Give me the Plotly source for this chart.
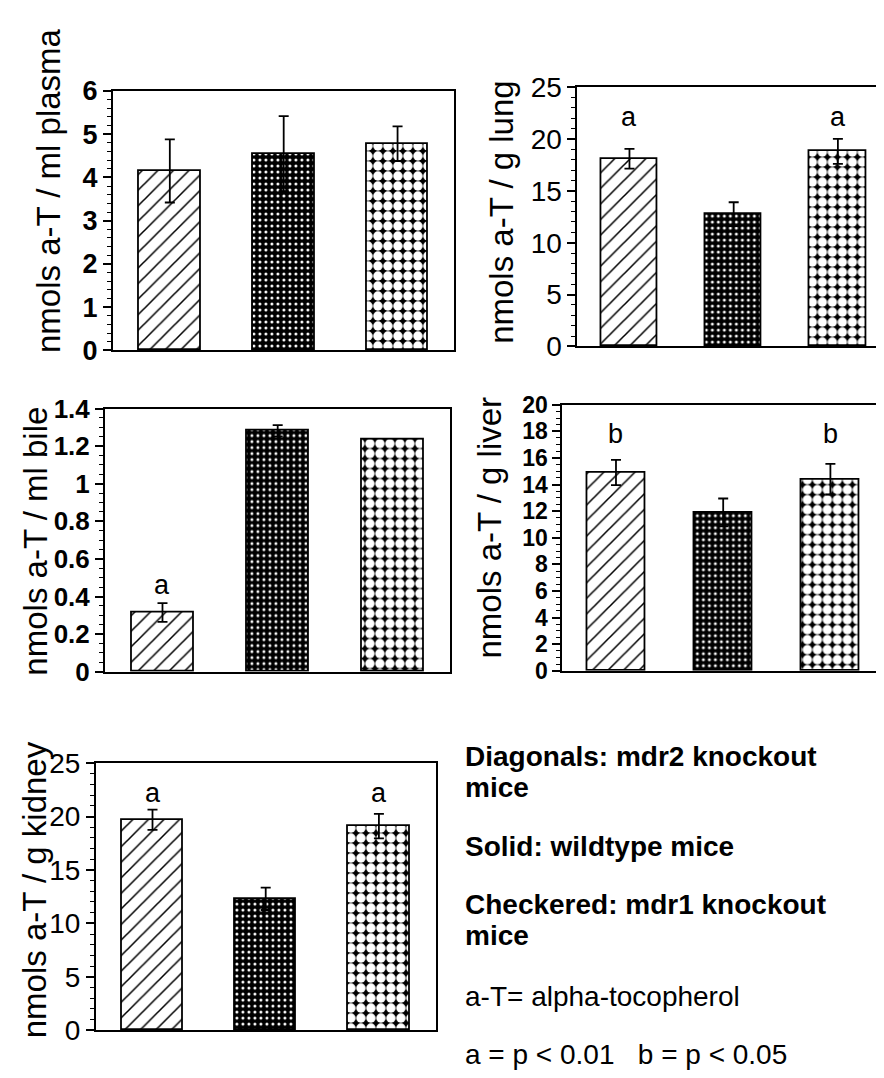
import plotly.graph_objects as go

# ---------------- data ----------------
groups = ["mdr2 knockout", "wildtype", "mdr1 knockout"]

plasma_vals = [4.15, 4.55, 4.78]
plasma_err = [0.73, 0.87, 0.40]
plasma_sig = ["", "", ""]

lung_vals = [18.1, 12.75, 18.8]
lung_err = [0.95, 1.15, 1.2]
lung_sig = ["a", "", "a"]

bile_vals = [0.315, 1.282, 1.236]
bile_err = [0.05, 0.03, 0.0]
bile_sig = ["a", "", ""]

liver_vals = [14.9, 11.9, 14.4]
liver_err = [0.95, 1.05, 1.15]
liver_sig = ["b", "", "b"]

kidney_vals = [19.7, 12.3, 19.1]
kidney_err = [0.95, 1.05, 1.15]
kidney_sig = ["a", "", "a"]

legend_lines = [
    "<b>Diagonals: mdr2 knockout</b>",
    "<b>mice</b>",
    "<b>Solid: wildtype mice</b>",
    "<b>Checkered: mdr1 knockout</b>",
    "<b>mice</b>",
    "a-T= alpha-tocopherol",
    "a = p &lt; 0.01   b = p &lt; 0.05",
]

# ---------------- layout / style ----------------
W, H = 884, 1078
FONT = "Liberation Sans, Arial, sans-serif"

panels = [
    dict(vals=plasma_vals, err=plasma_err, sig=plasma_sig, title="nmols a-T / ml plasma",
         rng=[0, 6], dtick=1, minor=0.2, box=(105, 447, 70, 337), tpos=(40, 172),
         sig_y=None, tfont=27, tbold=True),
    dict(vals=lung_vals, err=lung_err, sig=lung_sig, title="nmols a-T / g lung",
         rng=[0, 25], dtick=5, minor=1, box=(570, 883, 66, 333), tpos=(494, 194),
         sig_y=22.1, tfont=28, tbold=False),
    dict(vals=bile_vals, err=bile_err, sig=bile_sig, title="nmols a-T / ml bile",
         rng=[0, 1.4], dtick=0.2, minor=0.05, box=(97, 443, 397, 668), tpos=(28, 533),
         sig_y=0.46, tfont=26, tbold=True),
    dict(vals=liver_vals, err=liver_err, sig=liver_sig, title="nmols a-T / g liver",
         rng=[0, 20], dtick=2, minor=0.5, box=(555, 877, 393, 667), tpos=(482, 519),
         sig_y=17.8, tfont=23, tbold=True),
    dict(vals=kidney_vals, err=kidney_err, sig=kidney_sig, title="nmols a-T / g kidney",
         rng=[0, 25], dtick=5, minor=1, box=(88, 428, 762, 1037), tpos=(26, 892),
         sig_y=22.2, tfont=28, tbold=False),
]

patterns = [
    dict(shape="/", bgcolor="white", fgcolor="black", size=11, solidity=0.14, fillmode="replace"),
    dict(shape=".", bgcolor="black", fgcolor="white", size=6, solidity=0.2, fillmode="replace"),
    dict(shape=".", bgcolor="black", fgcolor="white", size=10, solidity=0.7, fillmode="replace"),
]

fig = go.Figure()
annotations = []

for i, p in enumerate(panels):
    n = "" if i == 0 else str(i + 1)
    xa, ya = "x" + n, "y" + n
    x0, x1, y0, y1 = p["box"]
    for j in range(len(groups)):
        fig.add_trace(go.Bar(
            x=[j], y=[p["vals"][j]], width=0.54,
            xaxis=xa, yaxis=ya, showlegend=False, name=groups[j],
            marker=dict(color="white", line=dict(color="black", width=1.8),
                        pattern=patterns[j]),
            error_y=dict(type="data", array=[p["err"][j]], visible=p["err"][j] > 0,
                         color="black", thickness=1.8, width=5),
        ))
        if p["sig"][j]:
            annotations.append(dict(x=j, y=p["sig_y"], xref=xa, yref=ya, text=p["sig"][j],
                                    showarrow=False, font=dict(family=FONT, size=27, color="black")))
    tickfont = dict(family=FONT, size=p["tfont"], color="black",
                    weight="bold" if p["tbold"] else "normal")
    fig.update_layout(**{
        ("xaxis" + n): dict(domain=[x0 / W, x1 / W], anchor=ya, range=[-0.5, 2.5],
                            showticklabels=False, ticks="", showgrid=False, zeroline=False,
                            showline=True, linecolor="black", linewidth=1.8, mirror=True,
                            fixedrange=True),
        ("yaxis" + n): dict(domain=[1 - y1 / H, 1 - y0 / H], anchor=xa, range=p["rng"],
                            dtick=p["dtick"], tick0=0, ticks="outside", ticklen=8, tickwidth=1.8,
                            tickcolor="black", tickfont=tickfont, showgrid=False, zeroline=False,
                            showline=True, linecolor="black", linewidth=1.8, mirror=True,
                            minor=dict(dtick=p["minor"], ticks="outside", ticklen=4,
                                       tickcolor="black", tickwidth=1, showgrid=False),
                            fixedrange=True),
    })
    tx, ty = p["tpos"]
    annotations.append(dict(x=tx / W, y=1 - ty / H, xref="paper", yref="paper",
                            text=p["title"], textangle=-90, showarrow=False,
                            xanchor="center", yanchor="middle",
                            font=dict(family=FONT, size=33, color="black")))

legend_y = [755, 787, 848, 908, 940, 1002, 1062]
for txt, ly in zip(legend_lines, legend_y):
    annotations.append(dict(x=456 / W, y=1 - ly / H, xref="paper", yref="paper", text=txt,
                            showarrow=False, xanchor="left", yanchor="middle",
                            font=dict(family=FONT, size=28, color="black")))

fig.update_layout(
    width=W, height=H, margin=dict(l=0, r=0, t=0, b=0),
    paper_bgcolor="white", plot_bgcolor="white",
    annotations=annotations, bargap=0, showlegend=False,
)

fig.write_html("out.html")
